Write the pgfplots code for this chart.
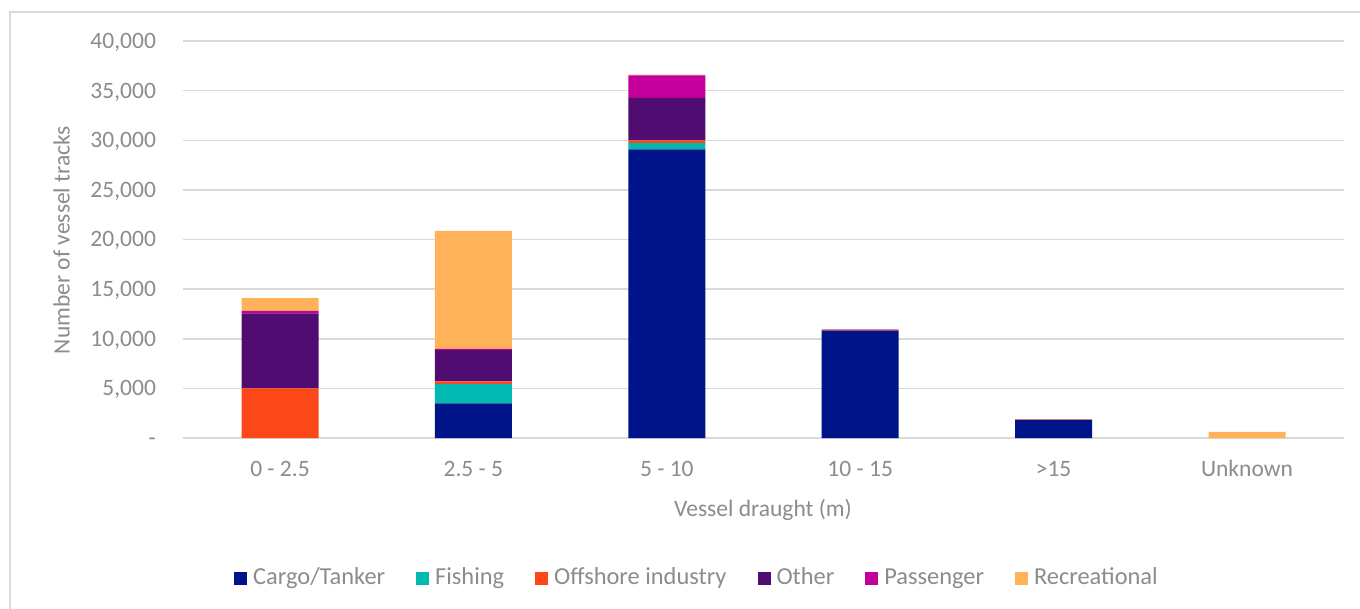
\documentclass[border=0pt]{standalone}
\usepackage{fontspec}
\setmainfont{Carlito}
\usepackage{pgfplots}
\pgfplotsset{compat=1.18}

\definecolor{cargo}{RGB}{0,20,137}
\definecolor{fishing}{RGB}{0,185,176}
\definecolor{offshore}{RGB}{252,72,24}
\definecolor{other}{RGB}{80,12,112}
\definecolor{passenger}{RGB}{196,0,156}
\definecolor{recreational}{RGB}{255,178,90}
\definecolor{txtgray}{RGB}{140,140,140}
\definecolor{gridgray}{RGB}{217,217,217}

\begin{document}
\fontsize{11.75}{14}\selectfont
\begin{tikzpicture}
\begin{scope}[x=0.5pt,y=-0.5pt]
  \path[use as bounding box, fill=white] (0,0) rectangle (1360,609);
  \draw[gridgray, line width=1pt] (10,609) -- (10,12) -- (1360,12);
  \node[rotate=90, anchor=base, text=txtgray, inner sep=0pt] at (69.5,240) {Number of vessel tracks};
  \node[anchor=base, text=txtgray, inner sep=0pt] at (763,516) {Vessel draught (m)};
\end{scope}
\begin{axis}[
  at={(91.65pt,-219pt)}, anchor=south west,
  scale only axis, width=580.2pt, height=198.5pt,
  ybar stacked, bar width=38.5pt,
  xmin=-0.5, xmax=5.5, ymin=0, ymax=40000,
  xtick={0,...,5},
  xticklabels={0 - 2.5, 2.5 - 5, 5 - 10, 10 - 15, >15, Unknown},
  ytick={0,5000,...,40000},
  scaled y ticks=false,
  yticklabels={{-\hspace{5pt}},{5,000},{10,000},{15,000},{20,000},{25,000},{30,000},{35,000},{40,000}},
  axis line style={draw=none},
  major tick length=0pt,
  ymajorgrids, grid style={gridgray, line width=0.75pt},
  tick label style={text=txtgray, font=\fontsize{11.75}{14}\selectfont},
  xticklabel style={anchor=base, inner sep=0pt, yshift=-19.3pt},
  yticklabel style={anchor=base east, inner sep=0pt, xshift=-13.5pt, yshift=-3.7pt},
  legend image code/.code={\fill[#1] (0pt,-3.25pt) rectangle (6.5pt,3.25pt);},
  legend columns=6,
  legend style={at={(0.4418,-0.355)}, anchor=center, draw=none, fill=none,
    text=txtgray, font=\fontsize{12.2}{14}\selectfont,
    nodes={inner sep=0pt, text height=0.72em, text depth=0.22em},
    /tikz/every odd column/.append style={column sep=3pt},
    /tikz/every even column/.append style={column sep=15.5pt}},
  legend cell align=left,
]
\addplot[fill=cargo, draw=none] coordinates {(0,0) (1,3500) (2,29090) (3,10820) (4,1790) (5,0)};
\addplot[fill=fishing, draw=none] coordinates {(0,0) (1,1940) (2,630) (3,0) (4,0) (5,0)};
\addplot[fill=offshore, draw=none] coordinates {(0,5000) (1,270) (2,280) (3,40) (4,50) (5,0)};
\addplot[fill=other, draw=none] coordinates {(0,7560) (1,3160) (2,4260) (3,40) (4,30) (5,0)};
\addplot[fill=passenger, draw=none] coordinates {(0,250) (1,100) (2,2280) (3,10) (4,0) (5,0)};
\addplot[fill=recreational, draw=none] coordinates {(0,1280) (1,11890) (2,80) (3,40) (4,40) (5,630)};
\legend{Cargo/Tanker, Fishing, Offshore industry, Other, Passenger, Recreational}
\end{axis}
\end{tikzpicture}
\end{document}
